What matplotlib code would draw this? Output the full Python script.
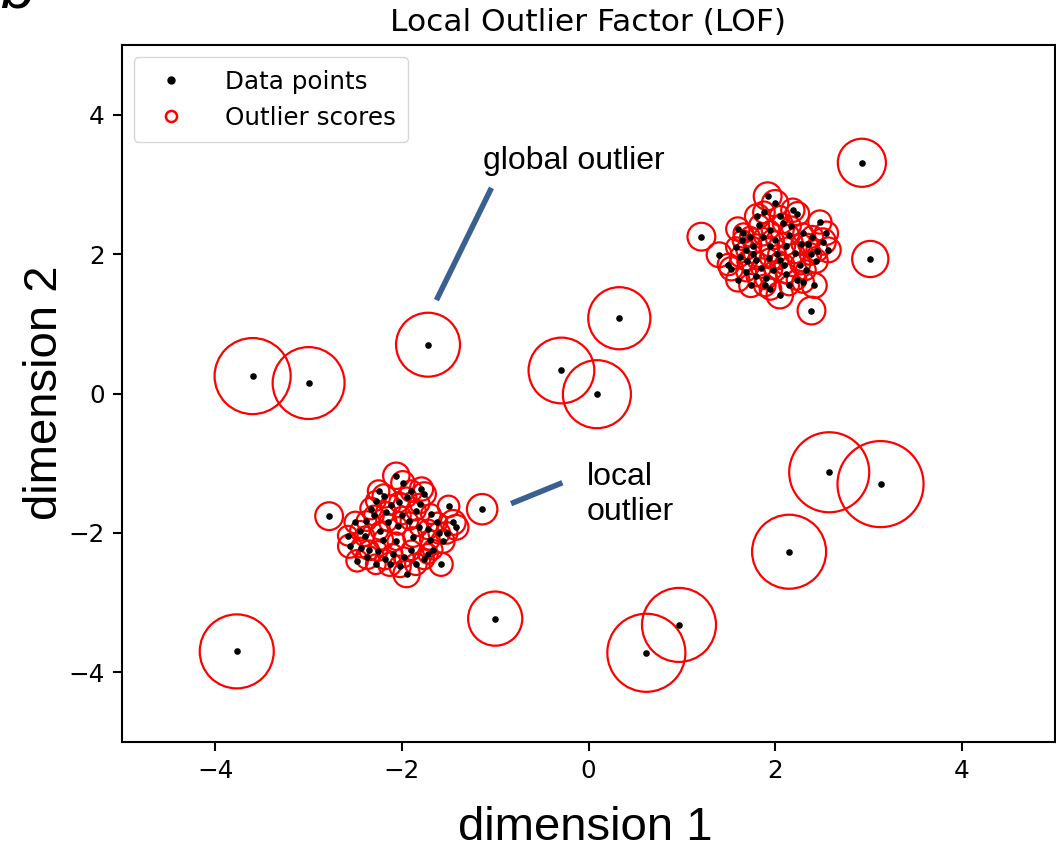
import numpy as np
import matplotlib
matplotlib.use("Agg")
import matplotlib.pyplot as plt
from matplotlib.lines import Line2D

# isolated outliers (x, y) and outlier score (circle area ~ score)
out_x = [-3.60, -3.00, -1.72, -0.29, 0.09, 0.33, 2.93, 3.02, 2.58, 3.13,
         2.15, 0.97, 0.62, -1.00, -3.77, -1.14, -2.78, 1.21, 2.39]
out_y = [0.25, 0.15, 0.70, 0.33, -0.01, 1.08, 3.31, 1.93, -1.13, -1.30,
         -2.27, -3.32, -3.72, -3.23, -3.70, -1.66, -1.76, 2.25, 1.19]
out_score = [0.75, 0.67, 0.53, 0.56, 0.60, 0.50, 0.30, 0.17, 0.83, 0.96,
             0.71, 0.71, 0.79, 0.38, 0.71, 0.12, 0.10, 0.10, 0.10]

# upper right cluster
c1_x = [1.40, 1.60, 1.81, 1.92, 2.00, 2.19, 2.24, 2.48, 1.94, 2.51, 2.57, 2.44,
        2.42, 2.05, 1.89, 1.74, 1.60, 1.53, 1.62, 2.23, 2.33, 2.30, 2.08, 1.83,
        1.73, 1.69, 1.80, 2.05, 2.12, 2.21, 1.98, 1.69, 2.12, 1.87, 1.95, 2.15,
        1.76, 2.38, 2.02, 1.65, 2.27, 1.90, 2.35,
        1.50, 1.58, 1.66, 1.76, 1.85, 1.93, 2.00, 2.10, 2.17, 2.28, 2.40, 2.45,
        2.30, 2.15, 1.95, 1.80, 1.70, 2.05, 1.88, 2.55]
c1_y = [1.99, 2.36, 2.54, 2.83, 2.73, 2.63, 2.58, 2.46, 2.11, 2.18, 2.06, 1.90,
        1.55, 1.41, 1.55, 1.55, 1.63, 1.79, 1.96, 1.63, 1.77, 2.30, 2.44, 2.42,
        2.25, 2.06, 1.91, 1.91, 2.11, 2.01, 1.77, 1.75, 1.72, 2.25, 2.35, 2.28,
        2.12, 2.00, 2.00, 2.20, 1.85, 1.65, 2.15,
        1.85, 2.10, 2.30, 2.00, 1.80, 1.95, 2.20, 1.85, 2.40, 2.15, 2.25, 2.05,
        1.60, 1.55, 1.50, 1.68, 1.90, 2.55, 2.60, 2.30]
c1_score = [0.08, 0.07, 0.08, 0.10, 0.09, 0.07, 0.07, 0.07, 0.05, 0.09, 0.08, 0.07,
            0.08, 0.09, 0.06, 0.07, 0.07, 0.07, 0.05, 0.05, 0.05, 0.05, 0.05, 0.05,
            0.05, 0.05, 0.04, 0.04, 0.04, 0.05, 0.04, 0.05, 0.05, 0.04, 0.04, 0.05,
            0.04, 0.06, 0.04, 0.05, 0.05, 0.06, 0.05,
            0.06, 0.05, 0.05, 0.04, 0.05, 0.04, 0.04, 0.05, 0.05, 0.05, 0.06, 0.06,
            0.06, 0.05, 0.06, 0.05, 0.05, 0.05, 0.06, 0.07]

# lower left cluster
c2_x = [-2.06, -1.99, -1.79, -1.76, -2.19, -2.28, -2.03, -1.69, -1.45, -1.42,
        -1.56, -1.58, -1.95, -2.13, -2.28, -2.37, -2.58, -2.56, -2.44, -2.26,
        -1.76, -1.67, -2.04, -2.06, -1.88, -2.38, -2.24, -1.85, -1.92, -2.17,
        -2.45, -1.95, -1.81, -2.10, -1.98, -2.30, -1.72, -2.15, -1.60,
        -2.50, -2.40, -2.33, -2.20, -2.12, -2.00, -1.90, -1.82, -1.70, -1.62,
        -1.52, -1.50, -2.35, -2.18, -2.02, -1.85, -1.72, -2.25, -1.90, -2.48]
c2_y = [-1.18, -1.28, -1.37, -1.44, -1.47, -1.54, -1.56, -1.73, -1.85, -1.92,
        -2.12, -2.45, -2.59, -2.45, -2.45, -2.35, -2.04, -2.19, -2.21, -2.26,
        -2.38, -2.24, -1.90, -2.12, -2.06, -1.83, -1.97, -1.68, -1.83, -1.70,
        -1.97, -1.49, -1.58, -2.30, -2.35, -1.75, -1.95, -1.85, -2.00,
        -1.85, -2.05, -1.65, -2.10, -1.60, -1.75, -2.25, -1.92, -2.10, -1.85,
        -2.00, -1.62, -2.25, -2.38, -2.48, -2.45, -2.30, -1.40, -1.40, -2.40]
c2_score = [0.09, 0.07, 0.07, 0.07, 0.07, 0.05, 0.05, 0.05, 0.08, 0.08,
            0.07, 0.07, 0.09, 0.07, 0.05, 0.07, 0.05, 0.07, 0.05, 0.05,
            0.05, 0.05, 0.04, 0.04, 0.05, 0.05, 0.04, 0.05, 0.04, 0.05,
            0.05, 0.05, 0.05, 0.05, 0.05, 0.05, 0.05, 0.04, 0.06,
            0.06, 0.05, 0.06, 0.05, 0.05, 0.04, 0.05, 0.04, 0.05, 0.05,
            0.06, 0.06, 0.05, 0.05, 0.06, 0.06, 0.05, 0.06, 0.06, 0.06]

x = np.array(out_x + c1_x + c2_x)
y = np.array(out_y + c1_y + c2_y)
score = np.array(out_score + c1_score + c2_score)

fig = plt.figure(figsize=(10.56, 8.49), dpi=100)
W, H = 1056, 849
ax = fig.add_axes([122 / W, (H - 742) / H, (1055 - 122) / W, (742 - 45) / H])

fs = 17.7
ax.scatter(x, y, color="k", s=14, zorder=3)
ax.scatter(x, y, s=4000 * score, edgecolors="r", facecolors="none", linewidths=1.6, zorder=2)

ax.set_xlim(-5, 5)
ax.set_ylim(-5, 5)
ax.set_xticks([-4, -2, 0, 2, 4])
ax.set_yticks([-4, -2, 0, 2, 4])
ax.tick_params(labelsize=fs, length=6.5, width=1.5, pad=6)
for sp in ax.spines.values():
    sp.set_linewidth(1.5)
ax.set_title("Local Outlier Factor (LOF)", fontsize=22.5, pad=10)

handles = [
    Line2D([], [], marker="o", linestyle="none", color="k", markersize=5),
    Line2D([], [], marker="o", linestyle="none", markerfacecolor="none",
           markeredgecolor="r", markeredgewidth=1.8, markersize=8),
]
ax.legend(handles, ["Data points", "Outlier scores"], loc="upper left", fontsize=fs,
          handletextpad=1.2, borderpad=0.5, labelspacing=0.5)

# annotations
arial = "Liberation Sans"
ax.plot([-1.63, -1.04], [1.34, 2.95], color="#3A6090", lw=4, solid_capstyle="butt", zorder=4)
ax.plot([-0.83, -0.28], [-1.58, -1.28], color="#3A6090", lw=4, solid_capstyle="butt", zorder=4)
ax.text(-1.13, 3.33, "global outlier", fontsize=23, family=arial, va="center", ha="left")
ax.text(-0.02, -1.45, "local\noutlier", fontsize=23, family=arial, va="center", ha="left",
        linespacing=1.25)

fig.text(585 / W, 1 - 828 / H, "dimension 1", fontsize=34, family=arial, ha="center", va="center")
fig.text(45 / W, 1 - 393 / H, "dimension 2", fontsize=34, family=arial, ha="center",
         va="center", rotation=90)

# cropped panel label at top left corner
fig.text(0.0, 1 - 8 / H, "b", fontsize=44, family=arial, style="italic", ha="left", va="baseline")

fig.savefig("out.png", dpi=100)
